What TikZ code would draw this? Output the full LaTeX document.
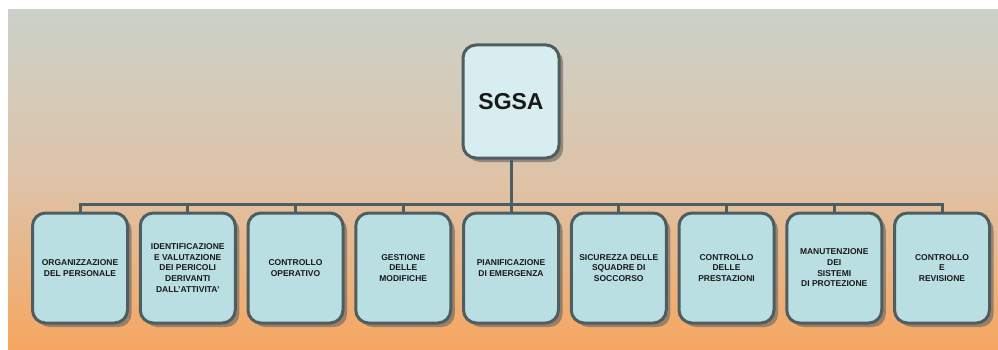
\documentclass[tikz,border=0pt]{standalone}
\usepackage{fontspec}
\setmainfont{Liberation Sans}
\usepackage{tikz}
\usetikzlibrary{positioning}
\usetikzlibrary{shadows}
\definecolor{edge}{RGB}{78,94,96}
\definecolor{boxfill}{RGB}{186,223,227}
\definecolor{rootfill}{RGB}{216,237,240}
\definecolor{bgtop}{RGB}{203,209,201}
\definecolor{bgmid}{RGB}{222,195,168}
\definecolor{bgbot}{RGB}{246,166,96}
\definecolor{shadowgray}{RGB}{120,110,100}

\begin{document}
\begin{tikzpicture}[x=1pt,y=-1pt,node distance=107.75pt,
  every node/.style={draw=edge,line width=3pt,rounded corners=13pt,align=center,
    text=black!90,font=\bfseries\fontsize{8.5}{10.7}\selectfont,
    general shadow={fill=shadowgray,opacity=0.7,shadow xshift=4pt,shadow yshift=-4pt}},
  area/.style={fill=boxfill,minimum width=95pt,minimum height=110pt,inner sep=1pt},
  link/.style={draw=edge,line width=3pt}]
  \useasboundingbox (0,0) rectangle (998,350);
  \fill[top color=bgtop,bottom color=bgbot,middle color=bgmid] (8,10) rectangle (998,350);

  \node[fill=rootfill,minimum width=96pt,minimum height=113pt,font=\bfseries\fontsize{23}{27}\selectfont] (root) at (511,101.5) {SGSA};

  \node[area] (c1) at (80,268) {ORGANIZZAZIONE\\DEL PERSONALE};
  \node[area,right of =c1] (c2) {IDENTIFICAZIONE\\E VALUTAZIONE\\DEI PERICOLI\\DERIVANTI\\DALL'ATTIVITA'};
  \node[area,right of =c2] (c3) {CONTROLLO\\OPERATIVO};
  \node[area,right of =c3] (c4) {GESTIONE\\DELLE\\MODIFICHE};
  \node[area,right of =c4] (c5) {PIANIFICAZIONE\\DI EMERGENZA};
  \node[area,right of =c5] (c6) {SICUREZZA DELLE\\SQUADRE DI\\SOCCORSO};
  \node[area,right of =c6] (c7) {CONTROLLO\\DELLE\\PRESTAZIONI};
  \node[area,right of =c7] (c8) {MANUTENZIONE\\DEI\\SISTEMI\\DI PROTEZIONE};
  \node[area,right of =c8] (c9) {CONTROLLO\\E\\REVISIONE};

  \coordinate (bus) at (511,204);
  \draw[link] (root.south) -- (bus);
  \draw[link,line cap=rect] (c1.north |- bus) -- (c9.north |- bus);
  \foreach \i in {1,...,9}
    \draw[link] (c\i.north) -- (c\i.north |- bus);
\end{tikzpicture}
\end{document}
